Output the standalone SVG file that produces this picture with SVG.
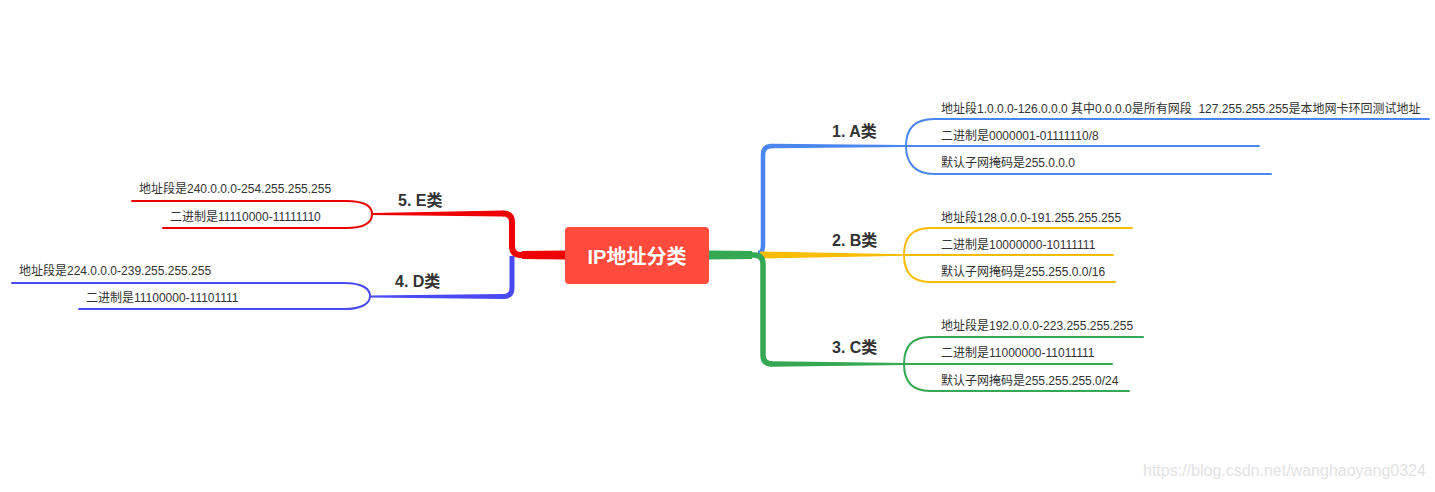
<svg xmlns="http://www.w3.org/2000/svg" width="1435" height="492" viewBox="0 0 1435 492">
<style>
text{font-family:"Liberation Sans","Noto Sans CJK SC",sans-serif;fill:#333}
.t{font-size:12px}
.l{font-size:16px;font-weight:bold}
.c{font-size:20px;font-weight:bold;fill:#fff}
.w{font-size:16px;fill:#e2e2e2}
.br{fill:none;stroke-width:2;stroke-linecap:round}
.tr{fill:none;stroke-linecap:butt}
</style>
<rect width="1435" height="492" fill="#fff"/>
<g id="connectors">
  <!-- right trunks -->
  <path class="tr" d="M758 253 Q763 253 763 245 V155 Q763 146 772 146" stroke="#4A86F0" stroke-width="4.5"/>
  <polygon points="771,143.8 906,145 906,147 771,148.2" fill="#4A86F0"/>
  <polygon points="760,251.5 906,254.2 906,255.8 760,258.5" fill="#FBBC05"/>
  <path class="tr" d="M709 255 H754 Q763 255 763 264 V355 Q763 364 772 364" stroke="#34A853" stroke-width="5.5"/>
  <polygon points="709,250.5 752,251 752,259 709,259.5" fill="#34A853"/>
  <polygon points="771,361.3 906,363 906,365 771,366.7" fill="#34A853"/>
  <!-- left trunks -->
  <path class="tr" d="M512 256 V288 Q512 296.5 503 296.5" stroke="#4A4AF4" stroke-width="5"/>
  <polygon points="504,294 370,295.5 370,297.5 504,299" fill="#4A4AF4"/>
  <path class="tr" d="M565 255 H521 Q512 255 512 246 V222 Q512 213.5 503 213.5" stroke="#EE0000" stroke-width="6"/>
  <polygon points="565,250.5 522,251 522,259 565,259.5" fill="#EE0000"/>
  <polygon points="504,210.5 372,213 372,215 504,216.5" fill="#EE0000"/>
  <!-- A brackets -->
  <path class="br" stroke="#4A86F0" d="M906 146 C906 128 916 119 934 119 H1429 M906 146 C906 164 916 174 934 174 H1271 M906 146 H1259"/>
  <!-- B brackets -->
  <path class="br" stroke="#FBBC05" d="M904 255 C904 237 913 228 930 228 H1132 M904 255 C904 273 913 282 930 282 H1115 M904 255 H1113"/>
  <!-- C brackets -->
  <path class="br" stroke="#34A853" d="M904 364 C904 346 913 337 930 337 H1143 M904 364 C904 382 913 391 930 391 H1129 M904 364 H1112"/>
  <!-- E brackets -->
  <path class="br" stroke="#EE0000" d="M372 214 C372 205 363 201 346 201 H132 M372 214 C372 223 363 228 346 228 H163"/>
  <!-- D brackets -->
  <path class="br" stroke="#4A4AF4" d="M370 296 C370 288 361 283 344 283 H12 M370 296 C370 304 361 309 344 309 H79"/>
</g>
<g id="center">
  <rect x="565" y="227" width="144" height="57" rx="4" fill="#FF4B3E"/>
  <text class="c" x="637" y="264" text-anchor="middle">IP地址分类</text>
</g>
<g id="nodeA">
  <text class="l" x="832" y="137">1. A类</text>
  <text class="t" x="941" y="113" xml:space="preserve" style="white-space:pre">地址段1.0.0.0-126.0.0.0 其中0.0.0.0是所有网段  127.255.255.255是本地网卡环回测试地址</text>
  <text class="t" x="941" y="140">二进制是0000001-01111110/8</text>
  <text class="t" x="941" y="167">默认子网掩码是255.0.0.0</text>
</g>
<g id="nodeB">
  <text class="l" x="832" y="246">2. B类</text>
  <text class="t" x="941" y="222">地址段128.0.0.0-191.255.255.255</text>
  <text class="t" x="941" y="249">二进制是10000000-10111111</text>
  <text class="t" x="941" y="276">默认子网掩码是255.255.0.0/16</text>
</g>
<g id="nodeC">
  <text class="l" x="832" y="353">3. C类</text>
  <text class="t" x="941" y="330">地址段是192.0.0.0-223.255.255.255</text>
  <text class="t" x="941" y="357">二进制是11000000-11011111</text>
  <text class="t" x="941" y="385">默认子网掩码是255.255.255.0/24</text>
</g>
<g id="nodeE">
  <text class="l" x="398" y="206">5. E类</text>
  <text class="t" x="139" y="193">地址段是240.0.0.0-254.255.255.255</text>
  <text class="t" x="170" y="221">二进制是11110000-11111110</text>
</g>
<g id="nodeD">
  <text class="l" x="395" y="287">4. D类</text>
  <text class="t" x="19" y="275">地址段是224.0.0.0-239.255.255.255</text>
  <text class="t" x="86" y="302">二进制是11100000-11101111</text>
</g>
<text class="w" x="1143" y="476">https://blog.csdn.net/wanghaoyang0324</text>
</svg>
